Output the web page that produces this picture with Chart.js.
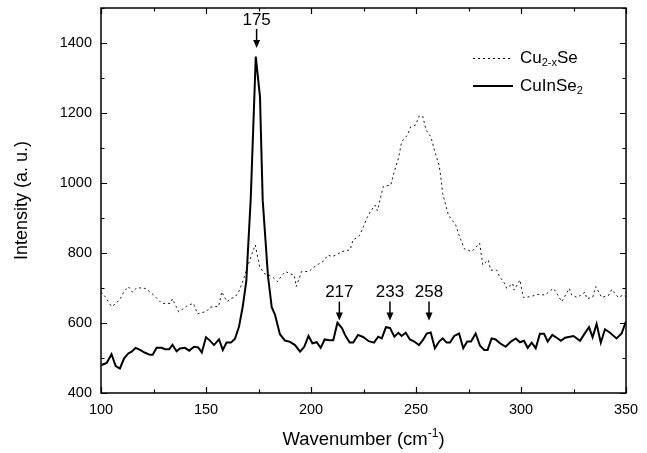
<!DOCTYPE html>
<html>
<head>
<meta charset="utf-8">
<script src="https://cdn.jsdelivr.net/npm/chart.js@4.4.0/dist/chart.umd.min.js"></script>
<style>
  html, body { margin: 0; padding: 0; background: #fff; }
  #wrap { width: 647px; height: 453px; }
</style>
</head>
<body>
<div id="wrap"><canvas id="chart" width="647" height="453"></canvas></div>
<script>
// Cu(2-x)Se spectrum (dotted)
const cu2xSeX = [100, 102, 105, 107, 109, 111, 113, 115, 117, 119, 121, 123, 125, 127, 129, 131, 133, 134, 137, 139,
  141, 143, 144, 146, 148, 150, 152, 154, 156, 157.5, 160, 162, 164, 166, 168, 170, 172, 173.5, 175.5, 178,
  180, 182, 184, 186, 188, 190, 192, 193, 195.5, 197, 199, 201, 203, 206, 208, 210, 212, 214.6, 218.6, 220,
  223, 225, 226.5, 228.5, 230.5, 231.6, 233, 234.4, 236, 238, 239.2, 241.6, 243.2, 245.9, 247.5, 249.9, 251.4, 253.2, 254.8, 257.1,
  259, 261, 261.8, 262.7, 265.4, 268.9, 270.5, 273, 276.5, 280.3, 281.8, 284.4, 285.6, 288.4, 289.7, 292.4, 293.2, 296, 296.7, 299.5,
  301.1, 304.3, 308.2, 311.4, 315.4, 317, 319.4, 323, 324.1, 326.8, 330.5, 331.3, 334.1, 335.6, 338.4, 341.9, 343.2, 346.3, 348.7, 350];
const cu2xSeY = [689, 675, 647, 655, 668, 690, 704, 688, 701, 700, 699, 690, 680, 668, 656, 656, 656, 669, 632, 640,
  649, 654, 656, 626, 630, 632, 645, 647, 647, 689, 661, 670, 675, 694, 728, 765, 799, 823, 761, 740,
  737, 730, 718, 735, 747, 740, 737, 704, 747, 747, 747, 758, 766, 777, 794, 790, 794, 804, 809, 837,
  849, 875, 899, 920, 937, 921, 955, 990, 992, 994, 1023, 1070, 1118, 1137, 1161, 1166, 1191, 1191, 1151, 1132,
  1089, 1051, 1018, 970, 909, 880, 851, 812, 804, 828, 766, 780, 751, 751, 734, 711, 699, 713, 694, 723,
  673, 675, 682, 680, 699, 685, 661, 699, 680, 673, 688, 670, 673, 704, 673, 680, 696, 673, 680, 675];

// CuInSe2 spectrum (solid)
const cuInSe2X = [100.3, 102.7, 105, 107, 109, 111, 113, 114.6, 116.5, 118.6, 121, 123.3, 124.6, 126.5, 128.9, 130.5, 132.5, 134, 136, 137.6,
  140, 142, 144.3, 146.3, 148, 150, 152, 153.8, 156.2, 158, 159.8, 161.9, 163.8, 165.7, 167.5, 169.2, 171.3, 173.7, 175.7, 177,
  179.5, 181.3, 182.9, 185.2, 187.6, 190, 192.4, 194.8, 196.8, 198.8, 200.7, 202.7, 204.6, 206.5, 208.7, 210.6, 212.6, 214.8, 216.2, 218.4,
  220.1, 222.4, 224.8, 227.5, 230, 232, 233.7, 235.7, 237.6, 239.7, 241.6, 243.2, 245.1, 247.1, 249.2, 251.4, 253.5, 255.1, 257, 259,
  261, 262.7, 264.6, 266.2, 268.2, 270.5, 272.5, 274.4, 276.2, 278.4, 280.5, 282.5, 284.1, 286, 287.9, 290, 292.7, 295.2, 297.5, 299.5,
  301.4, 303.2, 305.1, 307, 309, 311, 312.7, 314.9, 317, 319, 321, 325, 328.1, 330.2, 332.4, 334.1, 336, 338, 340, 342.4,
  345.5, 347.9, 350];
const cuInSe2Y = [480, 486, 511, 477, 470, 499, 513, 518, 529, 523, 515, 509, 509, 529, 529, 525, 525, 538, 519, 527,
  529, 521, 532, 530, 516, 559, 549, 537, 553, 523, 544, 544, 555, 589, 647, 720, 955, 1361, 1247, 951,
  735, 645, 623, 568, 550, 546, 537, 518, 532, 563, 542, 545, 529, 553, 551, 551, 601, 585, 566, 544,
  544, 566, 560, 548, 544, 561, 556, 588, 586, 561, 572, 563, 572, 553, 547, 537, 553, 570, 573, 528,
  547, 556, 544, 544, 563, 570, 528, 547, 547, 570, 535, 523, 523, 556, 553, 542, 532, 547, 556, 545,
  549, 529, 544, 528, 569, 569, 547, 566, 558, 549, 558, 563, 549, 569, 588, 559, 597, 544, 582, 572,
  556, 570, 605];

const xTicks = [100, 150, 200, 250, 300, 350];
const yTicks = [400, 600, 800, 1000, 1200, 1400];

// peak annotations: label, wavenumber of arrow, intensity at arrow tip
const peakLabels = ["175", "217", "233", "258"];
const peakAt = [174.1, 213.5, 237.6, 256.2];
const peakTip = [1386, 607, 607, 607];

const FONT = "'Liberation Sans', Arial, sans-serif";

function pts(xs, ys) {
  return xs.map((x, i) => ({ x: x, y: ys[i] }));
}

// draw text made of parts with sub/superscripts
function richText(ctx, parts, x, y, align) {
  let w = 0;
  parts.forEach(p => {
    ctx.font = p.size + "px " + FONT;
    w += ctx.measureText(p.t).width;
  });
  let cx = align === "center" ? x - w / 2 : x;
  ctx.textAlign = "left";
  ctx.textBaseline = "middle";
  parts.forEach(p => {
    ctx.font = p.size + "px " + FONT;
    ctx.fillText(p.t, cx, y + (p.dy || 0));
    cx += ctx.measureText(p.t).width;
  });
}

const decor = {
  id: "decor",
  afterDraw(chart) {
    const ctx = chart.ctx;
    const a = chart.chartArea;
    const xs = chart.scales.x;
    const ys = chart.scales.y;
    ctx.save();
    ctx.strokeStyle = "#000";
    ctx.fillStyle = "#000";

    // frame
    ctx.lineWidth = 1.5;
    ctx.strokeRect(a.left, a.top, a.right - a.left, a.bottom - a.top);

    // inward ticks on all four sides
    ctx.lineWidth = 1.2;
    ctx.beginPath();
    for (let v = 100; v <= 350; v += 25) {
      const px = Math.round(xs.getPixelForValue(v)) + 0.5;
      const len = v % 50 === 0 ? 6 : 3.5;
      ctx.moveTo(px, a.bottom); ctx.lineTo(px, a.bottom - len);
      ctx.moveTo(px, a.top); ctx.lineTo(px, a.top + len);
    }
    for (let v = 400; v <= 1500; v += 100) {
      const py = Math.round(ys.getPixelForValue(v)) + 0.5;
      const len = v % 200 === 0 ? 6 : 3.5;
      ctx.moveTo(a.left, py); ctx.lineTo(a.left + len, py);
      ctx.moveTo(a.right, py); ctx.lineTo(a.right - len, py);
    }
    ctx.stroke();

    // legend
    const lx = 473, lx2 = 513;
    ctx.lineWidth = 1;
    ctx.setLineDash([2, 3]);
    ctx.beginPath(); ctx.moveTo(lx, 58.5); ctx.lineTo(lx2, 58.5); ctx.stroke();
    ctx.setLineDash([]);
    ctx.lineWidth = 2;
    ctx.beginPath(); ctx.moveTo(lx, 86); ctx.lineTo(lx2, 86); ctx.stroke();
    richText(ctx, [{ t: "Cu", size: 17 }, { t: "2-x", size: 11, dy: 5 }, { t: "Se", size: 17 }], 520, 58, "left");
    richText(ctx, [{ t: "CuInSe", size: 17 }, { t: "2", size: 11, dy: 5 }], 520, 86, "left");

    // peak labels with arrows
    ctx.lineWidth = 1.5;
    peakLabels.forEach((lab, i) => {
      const px = xs.getPixelForValue(peakAt[i]);
      const tip = ys.getPixelForValue(peakTip[i]);
      ctx.beginPath();
      ctx.moveTo(px, tip - 19);
      ctx.lineTo(px, tip - 6);
      ctx.stroke();
      ctx.beginPath();
      ctx.moveTo(px - 3.5, tip - 8);
      ctx.lineTo(px + 3.5, tip - 8);
      ctx.lineTo(px, tip);
      ctx.closePath();
      ctx.fill();
      richText(ctx, [{ t: lab, size: 17 }], px, tip - 28, "center");
    });

    // axis titles
    richText(ctx, [{ t: "Wavenumber (cm", size: 18.5 }, { t: "-1", size: 12, dy: -6 }, { t: ")", size: 18.5 }],
      (a.left + a.right) / 2, 440, "center");
    ctx.save();
    ctx.translate(22, (a.top + a.bottom) / 2);
    ctx.rotate(-Math.PI / 2);
    richText(ctx, [{ t: "Intensity (a. u.)", size: 18 }], 0, 0, "center");
    ctx.restore();

    ctx.restore();
  }
};

new Chart(document.getElementById("chart"), {
  type: "line",
  data: {
    datasets: [
      {
        label: "Cu2-xSe",
        data: pts(cu2xSeX, cu2xSeY),
        borderColor: "#111",
        borderWidth: 1,
        borderDash: [2, 3],
        pointRadius: 0,
        tension: 0,
        fill: false
      },
      {
        label: "CuInSe2",
        data: pts(cuInSe2X, cuInSe2Y),
        borderColor: "#000",
        borderWidth: 2,
        pointRadius: 0,
        tension: 0,
        fill: false
      }
    ]
  },
  options: {
    responsive: false,
    animation: false,
    devicePixelRatio: 1,
    layout: { padding: { left: 0, right: 21, top: 8, bottom: 0 } },
    plugins: { legend: { display: false }, tooltip: { enabled: false } },
    scales: {
      x: {
        type: "linear",
        min: 100,
        max: 350,
        afterBuildTicks: s => { s.ticks = xTicks.map(v => ({ value: v })); },
        afterFit: s => { s.height = 60; s.paddingLeft = 0; s.paddingRight = 0; },
        grid: { display: false, drawTicks: false },
        border: { display: false },
        ticks: { color: "#000", font: { family: FONT, size: 14.5 }, padding: 8, maxRotation: 0, callback: v => String(v) }
      },
      y: {
        type: "linear",
        min: 400,
        max: 1500,
        afterBuildTicks: s => { s.ticks = yTicks.map(v => ({ value: v })); },
        afterFit: s => { s.width = 101; s.paddingTop = 0; s.paddingBottom = 0; },
        grid: { display: false, drawTicks: false },
        border: { display: false },
        ticks: { color: "#000", font: { family: FONT, size: 14.5 }, padding: 9, callback: v => String(v) }
      }
    }
  },
  plugins: [decor]
});
</script>
</body>
</html>
